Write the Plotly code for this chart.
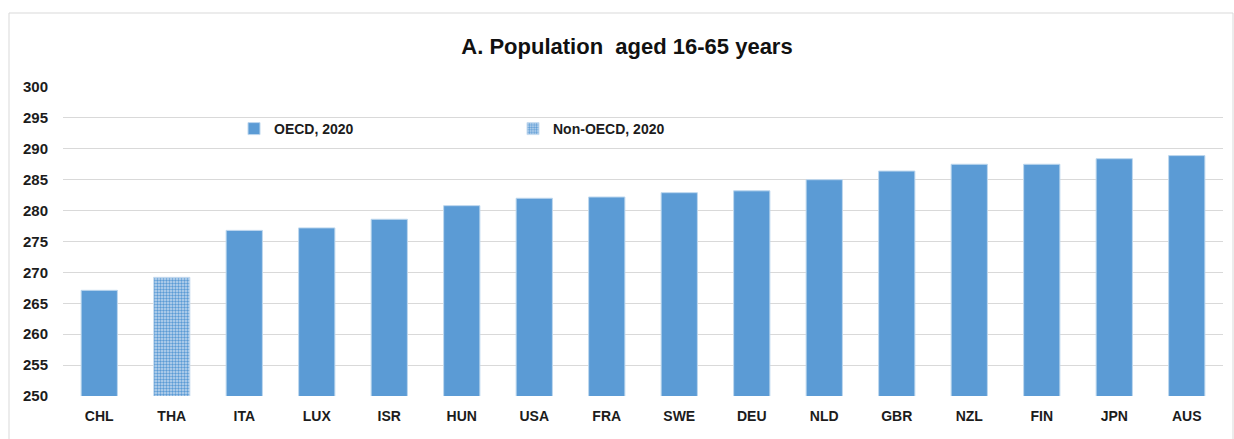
import plotly.graph_objects as go

# Mean scores, population aged 16-65, by country (2020)
countries = ["CHL", "THA", "ITA", "LUX", "ISR", "HUN", "USA", "FRA",
             "SWE", "DEU", "NLD", "GBR", "NZL", "FIN", "JPN", "AUS"]
scores = [267.1, 269.2, 276.8, 277.2, 278.6, 280.8, 282.0, 282.2,
          282.9, 283.2, 285.0, 286.4, 287.5, 287.5, 288.4, 288.9]
non_oecd = ["THA"]
y_ticks = [250, 255, 260, 265, 270, 275, 280, 285, 290, 295, 300]

oecd_vals = [v if c not in non_oecd else None for c, v in zip(countries, scores)]
non_oecd_vals = [v if c in non_oecd else None for c, v in zip(countries, scores)]

BLUE = "#5B9BD5"
FONT = "Liberation Sans"
TXT = "#1c1c1c"

W, H = 1234, 439
ML, MR, MT, MB = 63, 11, 87, 43
pw, ph = W - ML - MR, H - MT - MB

fig = go.Figure()
fig.add_trace(go.Bar(
    x=countries, y=oecd_vals, name="<b>OECD, 2020</b>",
    marker=dict(color=BLUE, line=dict(color="#BDD7EE", width=1)),
    legend="legend",
))
fig.add_trace(go.Bar(
    x=countries, y=non_oecd_vals, name="<b>Non-OECD, 2020</b>",
    marker=dict(
        color="#C3D9EF",
        line=dict(color="#C9DDF0", width=1),
        pattern=dict(shape=".", fgcolor=BLUE, bgcolor="#C3D9EF",
                     size=3, solidity=0.5, fillmode="replace"),
    ),
    legend="legend2",
))

def px_x(px):
    return (px - ML) / pw

def px_y(py):
    return (H - MB - py) / ph

fig.update_layout(
    width=W, height=H,
    margin=dict(l=ML, r=MR, t=MT, b=MB),
    paper_bgcolor="white", plot_bgcolor="white",
    barmode="overlay", bargap=0.5,
    font=dict(family=FONT, color=TXT),
    title=dict(text="<b>A. Population  aged 16-65 years</b>",
               font=dict(family=FONT, size=22, color="#111111"),
               x=627 / W, xanchor="center",
               y=1 - 46 / H, yanchor="middle", yref="container"),
    showlegend=True,
    legend=dict(x=px_x(234), y=px_y(129), xanchor="left", yanchor="middle",
                orientation="h", bgcolor="rgba(0,0,0,0)",
                font=dict(family=FONT, size=14, color=TXT)),
    legend2=dict(x=px_x(513), y=px_y(129), xanchor="left", yanchor="middle",
                 orientation="h", bgcolor="rgba(0,0,0,0)",
                 font=dict(family=FONT, size=14, color=TXT)),
    xaxis=dict(showgrid=False, showline=False, ticks="",
               tickfont=dict(family=FONT, size=14, color=TXT),
               ticktext=[f"<b>{c}</b>" for c in countries], tickvals=countries,
               ticklabelstandoff=10),
    yaxis=dict(range=[250, 300], tickvals=y_ticks,
               ticktext=[f"<b>{t}</b>" for t in y_ticks],
               showgrid=True, gridcolor="#D9D9D9", gridwidth=1,
               zeroline=False, showline=False, ticks="",
               tickfont=dict(family=FONT, size=15, color=TXT),
               ticklabelstandoff=14),
    shapes=[dict(type="rect", xref="paper", yref="paper",
                 x0=px_x(9), x1=px_x(1233), y0=px_y(13), y1=px_y(470),
                 line=dict(color="#D9D9D9", width=1), fillcolor="rgba(0,0,0,0)",
                 layer="below")],
)

fig.write_html("out.html")
